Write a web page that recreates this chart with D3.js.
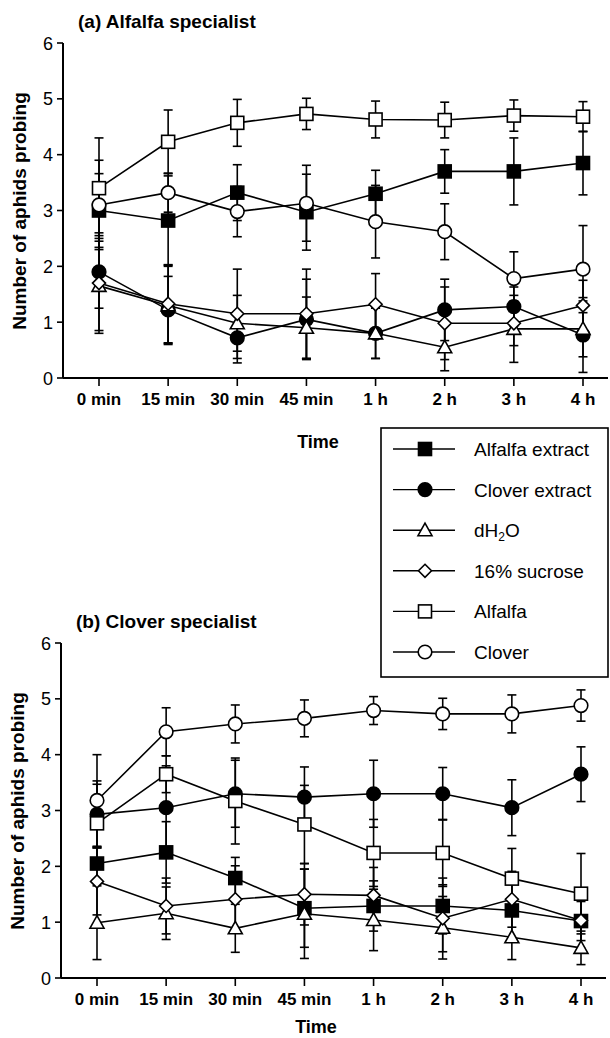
<!DOCTYPE html>
<html>
<head>
<meta charset="utf-8">
<script src="https://cdn.jsdelivr.net/npm/d3@7"></script>
<style>
  body { margin: 0; background: #fff; }
  svg { font-family: "Liberation Sans", Arial, sans-serif; }
</style>
</head>
<body>
<div id="chart"></div>
<script>
const times = ["0 min", "15 min", "30 min", "45 min", "1 h", "2 h", "3 h", "4 h"];
const yTicks = [0, 1, 2, 3, 4, 5, 6];
const seriesNames = ["Alfalfa extract", "Clover extract", "dH2O", "16% sucrose", "Alfalfa", "Clover"];

// (a) Alfalfa specialist
const aAlfalfaExtract = [3.0, 2.82, 3.32, 2.97, 3.3, 3.7, 3.7, 3.85];
const aAlfalfaExtractErr = [0.66, 0.8, 0.5, 0.68, 0.42, 0.39, 0.6, 0.57];
const aCloverExtract = [1.9, 1.22, 0.72, 1.05, 0.8, 1.22, 1.28, 0.77];
const aCloverExtractErr = [0.65, 0.6, 0.45, 0.72, 0.45, 0.55, 0.35, 0.67];
const aWater = [1.65, 1.3, 0.98, 0.9, 0.8, 0.55, 0.88, 0.88];
const aWaterErr = [0.8, 0.7, 0.5, 0.55, 0.45, 0.42, 0.6, 0.5];
const aSucrose = [1.7, 1.33, 1.15, 1.15, 1.32, 0.98, 0.98, 1.3];
const aSucroseErr = [0.9, 0.7, 0.8, 0.8, 0.55, 0.65, 0.4, 0.45];
const aAlfalfa = [3.4, 4.23, 4.57, 4.73, 4.63, 4.62, 4.7, 4.68];
const aAlfalfaErr = [0.9, 0.57, 0.42, 0.28, 0.33, 0.32, 0.28, 0.27];
const aClover = [3.1, 3.32, 2.98, 3.13, 2.8, 2.62, 1.78, 1.95];
const aCloverErr = [0.8, 0.35, 0.45, 0.68, 0.65, 0.5, 0.48, 0.78];

// (b) Clover specialist
const bAlfalfaExtract = [2.05, 2.25, 1.79, 1.25, 1.29, 1.29, 1.21, 1.02];
const bAlfalfaExtractErr = [0.3, 0.55, 0.37, 0.7, 0.45, 0.5, 0.5, 0.35];
const bCloverExtract = [2.93, 3.05, 3.3, 3.24, 3.3, 3.3, 3.05, 3.65];
const bCloverExtractErr = [0.6, 0.75, 0.6, 0.54, 0.6, 0.47, 0.5, 0.49];
const bWater = [0.99, 1.16, 0.89, 1.15, 1.04, 0.9, 0.73, 0.54];
const bWaterErr = [0.66, 0.47, 0.43, 0.8, 0.55, 0.56, 0.4, 0.3];
const bSucrose = [1.73, 1.29, 1.41, 1.5, 1.48, 1.07, 1.41, 1.03];
const bSucroseErr = [0.6, 0.5, 0.6, 0.55, 0.5, 0.6, 0.5, 0.5];
const bAlfalfa = [2.77, 3.65, 3.17, 2.75, 2.24, 2.24, 1.78, 1.51];
const bAlfalfaErr = [0.7, 0.33, 0.77, 0.7, 0.6, 0.6, 0.54, 0.72];
const bClover = [3.18, 4.41, 4.55, 4.65, 4.79, 4.73, 4.73, 4.88];
const bCloverErr = [0.82, 0.43, 0.34, 0.33, 0.25, 0.28, 0.34, 0.28];

const width = 610;
const height = 1038;

const svg = d3.select("#chart")
  .append("svg")
  .attr("width", width)
  .attr("height", height);

const x = d3.scalePoint().domain(times).range([99, 583]);
const y = d3.scaleLinear().domain([0, 6]).range([378, 43]);

// marker shapes, drawn around (0,0)
const markers = [
  { type: "square", fill: "#000" },
  { type: "circle", fill: "#000" },
  { type: "triangle", fill: "#fff" },
  { type: "diamond", fill: "#fff" },
  { type: "square", fill: "#fff" },
  { type: "circle", fill: "#fff" }
];

function drawMarker(g, m) {
  if (m.type === "square") {
    g.append("rect").attr("x", -6.5).attr("y", -6.5).attr("width", 13).attr("height", 13);
  } else if (m.type === "circle") {
    g.append("circle").attr("r", 6.8);
  } else if (m.type === "triangle") {
    g.append("path").attr("d", "M0,-7L7,5.5L-7,5.5Z");
  } else {
    g.append("path").attr("d", "M0,-6.5L6.5,0L0,6.5L-6.5,0Z");
  }
  g.selectAll("*")
    .attr("fill", m.fill)
    .attr("stroke", "#000")
    .attr("stroke-width", 1.6);
}

function drawPanel(g, title, series, timeY) {
  // axes
  g.append("line")
    .attr("x1", 63).attr("x2", 608)
    .attr("y1", y(0)).attr("y2", y(0))
    .attr("stroke", "#000").attr("stroke-width", 2);
  g.append("line")
    .attr("x1", 63).attr("x2", 63)
    .attr("y1", y(0)).attr("y2", y(6))
    .attr("stroke", "#000").attr("stroke-width", 2);

  g.selectAll(".ytick")
    .data(yTicks)
    .enter()
    .append("line")
    .attr("x1", 57).attr("x2", 63)
    .attr("y1", d => y(d)).attr("y2", d => y(d))
    .attr("stroke", "#000").attr("stroke-width", 1.6);

  g.selectAll(".ylab")
    .data(yTicks)
    .enter()
    .append("text")
    .attr("x", 53)
    .attr("y", d => y(d) + 6.5)
    .attr("text-anchor", "end")
    .attr("font-size", "18px")
    .text(d => d);

  g.selectAll(".xtick")
    .data(times)
    .enter()
    .append("line")
    .attr("x1", d => x(d)).attr("x2", d => x(d))
    .attr("y1", y(0)).attr("y2", y(0) + 8)
    .attr("stroke", "#000").attr("stroke-width", 1.6);

  g.selectAll(".xlab")
    .data(times)
    .enter()
    .append("text")
    .attr("x", d => x(d))
    .attr("y", y(0) + 27)
    .attr("text-anchor", "middle")
    .attr("font-size", "17px")
    .attr("font-weight", "bold")
    .text(d => d);

  g.append("text")
    .attr("x", 78)
    .attr("y", 28)
    .attr("font-size", "19px")
    .attr("font-weight", "bold")
    .text(title);

  g.append("text")
    .attr("transform", "translate(26,211) rotate(-90)")
    .attr("text-anchor", "middle")
    .attr("font-size", "19px")
    .attr("font-weight", "bold")
    .text("Number of aphids probing");

  g.append("text")
    .attr("x", 318)
    .attr("y", timeY)
    .attr("text-anchor", "middle")
    .attr("font-size", "18px")
    .attr("font-weight", "bold")
    .text("Time");

  // error bars
  series.forEach(s => {
    const eb = g.append("g").attr("stroke", "#000").attr("stroke-width", 1.6);
    s.values.forEach((v, i) => {
      const cx = x(times[i]);
      const hi = y(v + s.err[i]);
      const lo = y(Math.max(0, v - s.err[i]));
      eb.append("line").attr("x1", cx).attr("x2", cx).attr("y1", hi).attr("y2", lo);
      eb.append("line").attr("x1", cx - 4.5).attr("x2", cx + 4.5).attr("y1", hi).attr("y2", hi);
      eb.append("line").attr("x1", cx - 4.5).attr("x2", cx + 4.5).attr("y1", lo).attr("y2", lo);
    });
  });

  const line = d3.line()
    .x((d, i) => x(times[i]))
    .y(d => y(d));

  series.forEach(s => {
    g.append("path")
      .datum(s.values)
      .attr("d", line)
      .attr("fill", "none")
      .attr("stroke", "#000")
      .attr("stroke-width", 1.6);
  });

  series.forEach(s => {
    s.values.forEach((v, i) => {
      const mg = g.append("g")
        .attr("transform", `translate(${x(times[i])},${y(v)})`);
      drawMarker(mg, s.marker);
    });
  });
}

const seriesA = [
  { values: aAlfalfaExtract, err: aAlfalfaExtractErr, marker: markers[0] },
  { values: aCloverExtract, err: aCloverExtractErr, marker: markers[1] },
  { values: aWater, err: aWaterErr, marker: markers[2] },
  { values: aSucrose, err: aSucroseErr, marker: markers[3] },
  { values: aAlfalfa, err: aAlfalfaErr, marker: markers[4] },
  { values: aClover, err: aCloverErr, marker: markers[5] }
];

const seriesB = [
  { values: bAlfalfaExtract, err: bAlfalfaExtractErr, marker: markers[0] },
  { values: bCloverExtract, err: bCloverExtractErr, marker: markers[1] },
  { values: bWater, err: bWaterErr, marker: markers[2] },
  { values: bSucrose, err: bSucroseErr, marker: markers[3] },
  { values: bAlfalfa, err: bAlfalfaErr, marker: markers[4] },
  { values: bClover, err: bCloverErr, marker: markers[5] }
];

drawPanel(svg.append("g"), "(a) Alfalfa specialist", seriesA, 448);
drawPanel(svg.append("g").attr("transform", "translate(-2,600)"), "(b) Clover specialist", seriesB, 433);

// legend
const legend = svg.append("g");
legend.append("rect")
  .attr("x", 381).attr("y", 428)
  .attr("width", 227).attr("height", 249)
  .attr("fill", "#fff")
  .attr("stroke", "#000")
  .attr("stroke-width", 1.6);

seriesNames.forEach((name, i) => {
  const ly = 449 + i * 40.6;
  legend.append("line")
    .attr("x1", 393).attr("x2", 455)
    .attr("y1", ly).attr("y2", ly)
    .attr("stroke", "#000").attr("stroke-width", 1.4);
  drawMarker(legend.append("g").attr("transform", `translate(425,${ly})`), markers[i]);
  const t = legend.append("text")
    .attr("x", 474)
    .attr("y", ly + 7)
    .attr("font-size", "19px");
  if (name === "dH2O") {
    t.append("tspan").text("dH");
    t.append("tspan").attr("font-size", "12px").attr("dy", 4).text("2");
    t.append("tspan").attr("dy", -4).text("O");
  } else {
    t.text(name);
  }
});
</script>
</body>
</html>
